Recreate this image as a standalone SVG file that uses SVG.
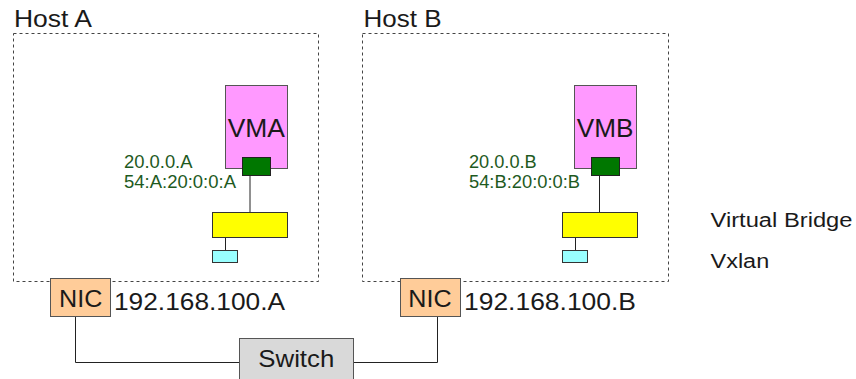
<svg xmlns="http://www.w3.org/2000/svg" width="856" height="379" viewBox="0 0 856 379">
<style>
text{font-family:"Liberation Sans",Arial,sans-serif;fill:#1a1a1a}
.host{fill:none;stroke:#444;stroke-width:1;stroke-dasharray:3,3}
.big{font-size:24px}
.vm{fill:#ff99ff;stroke:#555;stroke-width:1}
.port{fill:#007700;stroke:#222;stroke-width:1}
.br{fill:#ffff00;stroke:#333;stroke-width:1}
.vx{fill:#99ffff;stroke:#333;stroke-width:1}
.nic{fill:#ffcc99;stroke:#555;stroke-width:1}
.sw{fill:#d9d9d9;stroke:#555;stroke-width:1}
.addr{font-size:17.5px;fill:#1e5a1e}
.legend{font-size:20px}
.line{fill:none;stroke:#222;stroke-width:1}
</style>
<g id="hostA">
<rect class="host" x="13.5" y="33.5" width="305" height="248"/>
<text class="big" x="14" y="27" textLength="78" lengthAdjust="spacingAndGlyphs">Host A</text>
</g>
<g id="hostB">
<rect class="host" x="362.5" y="33.5" width="306" height="248"/>
<text class="big" x="363.5" y="27" textLength="78" lengthAdjust="spacingAndGlyphs">Host B</text>
</g>
<g id="connectors">
<path class="line" d="M250 175V213"/>
<path class="line" d="M225.5 238V250"/>
<path class="line" d="M599.5 175V213"/>
<path class="line" d="M575.5 238V250"/>
<path class="line" d="M75.5 317V362.5H239"/>
<path class="line" d="M353 362.5H437.5V317"/>
</g>
<g id="vma">
<rect class="vm" x="225.5" y="85.5" width="62" height="83"/>
<text class="big" x="227.7" y="137" style="font-size:26.5px" textLength="57.3" lengthAdjust="spacingAndGlyphs">VMA</text>
</g>
<g id="portA">
<rect class="port" x="242.5" y="157.5" width="28" height="18"/>
<text class="addr" x="124" y="168" textLength="68.5" lengthAdjust="spacingAndGlyphs">20.0.0.A</text>
<text class="addr" x="124" y="188" textLength="112" lengthAdjust="spacingAndGlyphs">54:A:20:0:0:A</text>
</g>
<g id="bridgeA"><rect class="br" x="212.5" y="212.5" width="75" height="25"/></g>
<g id="vxlanA"><rect class="vx" x="212.5" y="250.5" width="25" height="12"/></g>
<g id="vmb">
<rect class="vm" x="574.5" y="85.5" width="62" height="83"/>
<text class="big" x="576.7" y="137" style="font-size:26.5px" textLength="56.7" lengthAdjust="spacingAndGlyphs">VMB</text>
</g>
<g id="portB">
<rect class="port" x="591.5" y="157.5" width="28" height="18"/>
<text class="addr" x="469" y="168" textLength="67.7" lengthAdjust="spacingAndGlyphs">20.0.0.B</text>
<text class="addr" x="469" y="188" textLength="111" lengthAdjust="spacingAndGlyphs">54:B:20:0:0:B</text>
</g>
<g id="bridgeB"><rect class="br" x="562.5" y="212.5" width="75" height="25"/></g>
<g id="vxlanB"><rect class="vx" x="562.5" y="250.5" width="25" height="12"/></g>
<g id="nicA">
<rect class="nic" x="50.5" y="278.5" width="60" height="38"/>
<text class="big" x="59" y="307" textLength="43.3" lengthAdjust="spacingAndGlyphs">NIC</text>
<text class="big" x="114" y="309.5" style="font-size:23.5px" textLength="171" lengthAdjust="spacingAndGlyphs">192.168.100.A</text>
</g>
<g id="nicB">
<rect class="nic" x="400.5" y="278.5" width="60" height="38"/>
<text class="big" x="408.3" y="307" textLength="43.3" lengthAdjust="spacingAndGlyphs">NIC</text>
<text class="big" x="464" y="309.5" style="font-size:23.5px" textLength="172" lengthAdjust="spacingAndGlyphs">192.168.100.B</text>
</g>
<g id="switch">
<rect class="sw" x="239.5" y="338.5" width="114" height="45"/>
<text class="big" x="258.3" y="366.5" textLength="76" lengthAdjust="spacingAndGlyphs">Switch</text>
</g>
<g id="legend">
<text class="legend" x="710.5" y="227.3" textLength="142" lengthAdjust="spacingAndGlyphs">Virtual Bridge</text>
<text class="legend" x="710.5" y="267.7" textLength="58.7" lengthAdjust="spacingAndGlyphs">Vxlan</text>
</g>
</svg>
